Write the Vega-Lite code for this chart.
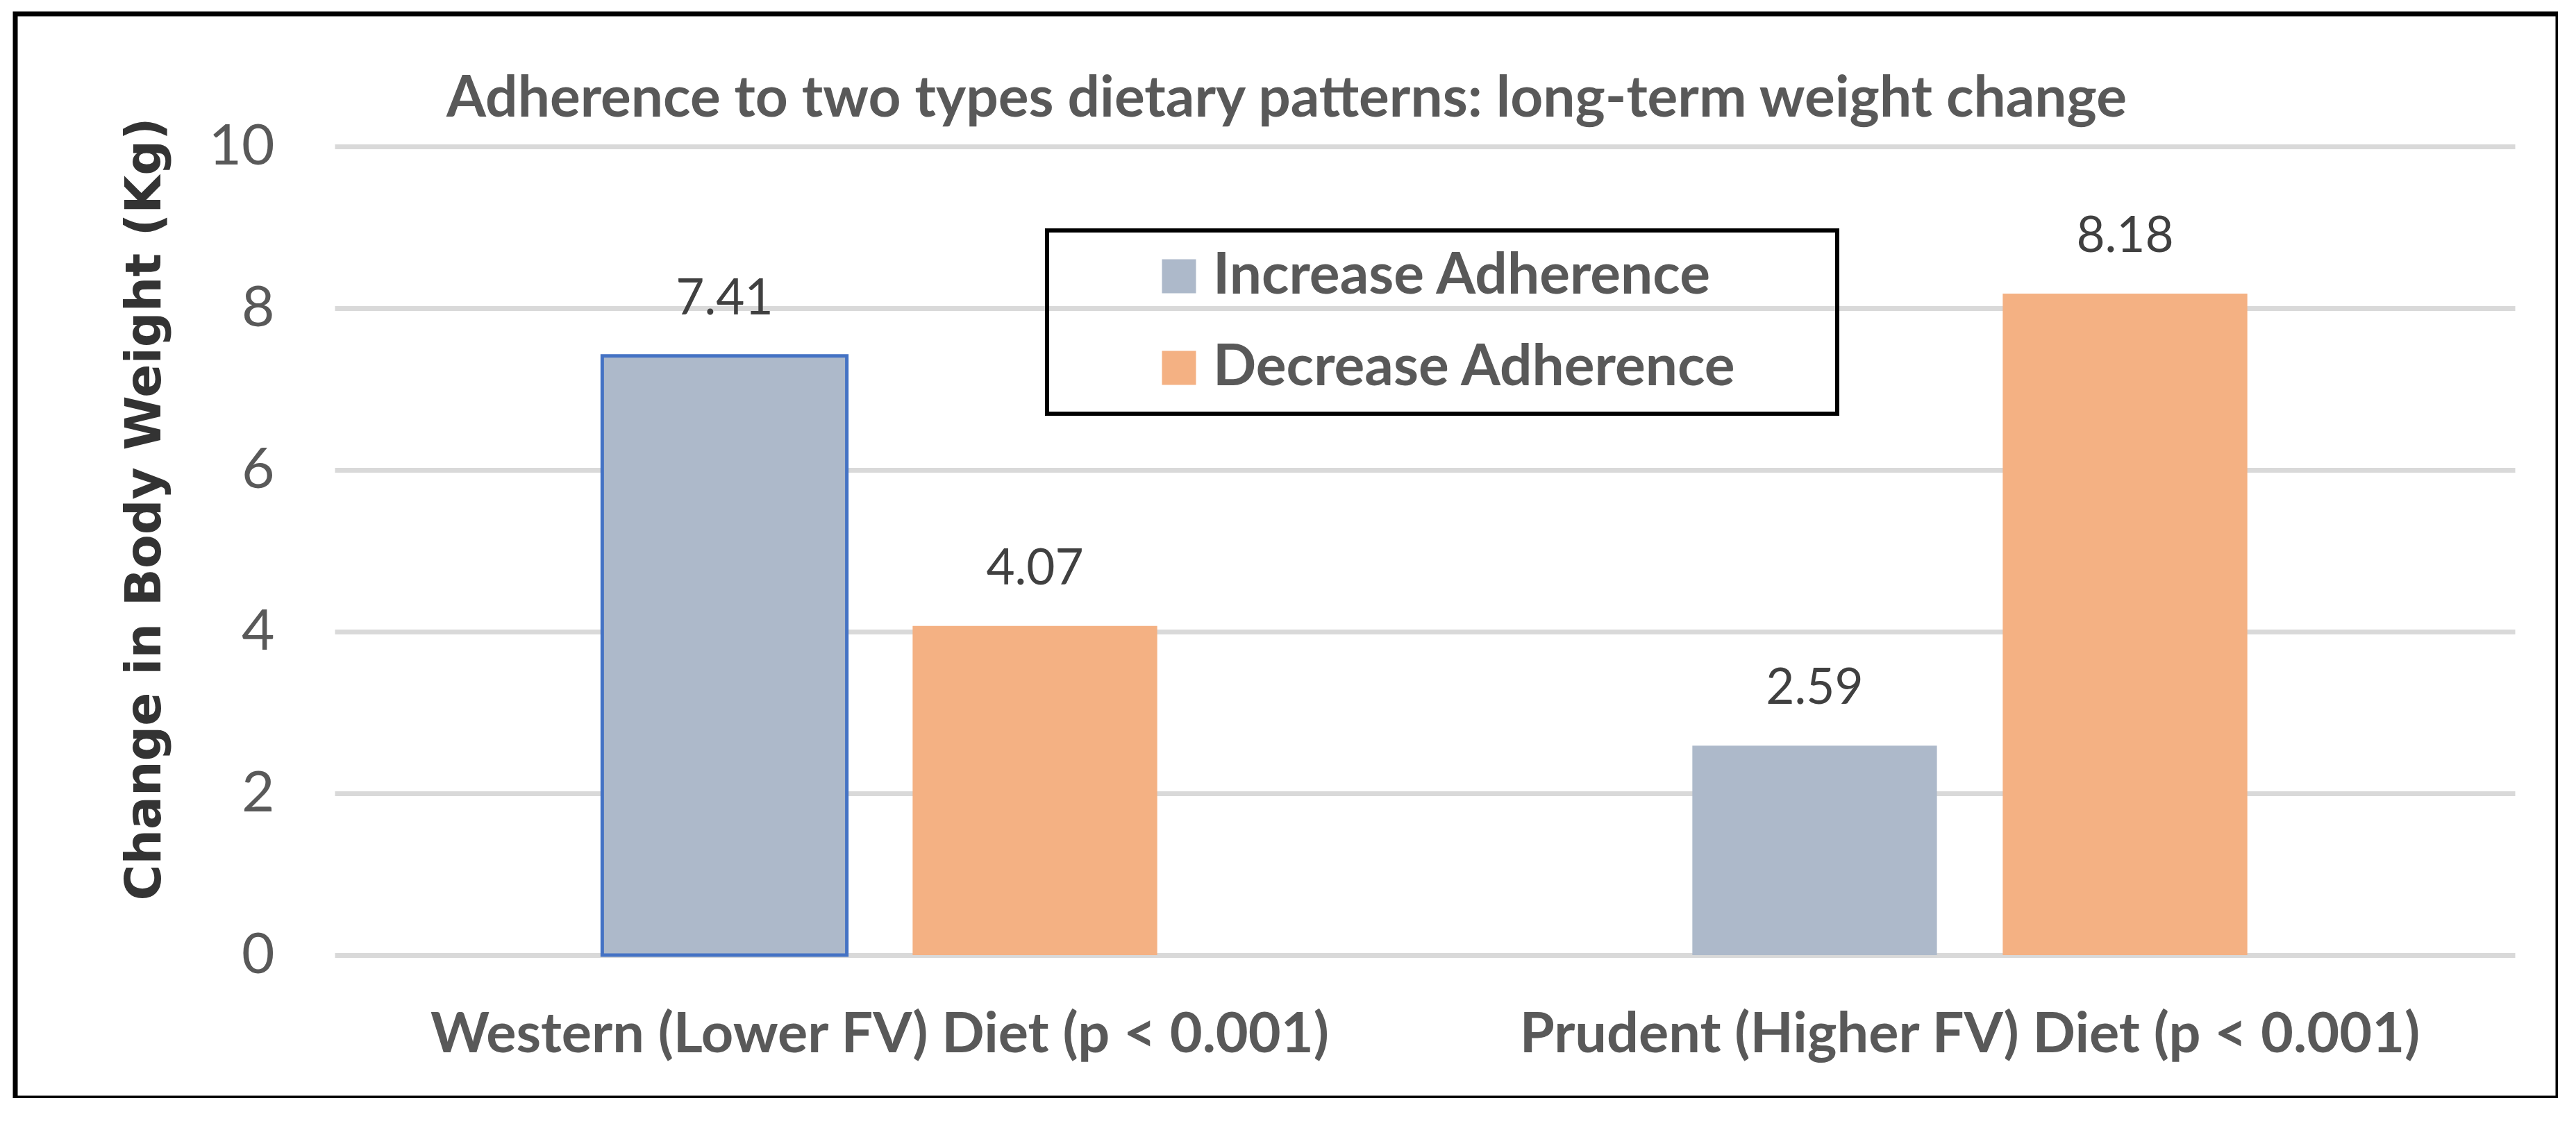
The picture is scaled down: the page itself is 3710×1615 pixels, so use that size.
{
  "$schema": "https://vega.github.io/schema/vega-lite/v6.json",
  "width": 3662,
  "height": 1562,
  "autosize": {"type": "none"},
  "padding": {"left": 22, "top": 20, "right": 0, "bottom": 0},
  "background": "white",
  "title": {
    "text": "Adherence to two types dietary patterns: long-term weight change",
    "font": "Lato",
    "fontSize": 82,
    "fontWeight": "bold",
    "color": "#595959",
    "anchor": "middle",
    "frame": "group",
    "baseline": "alphabetic",
    "offset": -230
  },
  "data": {
    "values": [
      {"diet": "Western (Lower FV) Diet (p < 0.001)", "adherence": "Increase Adherence", "change": 7.41},
      {"diet": "Western (Lower FV) Diet (p < 0.001)", "adherence": "Decrease Adherence", "change": 4.07},
      {"diet": "Prudent (Higher FV) Diet (p < 0.001)", "adherence": "Increase Adherence", "change": 2.59},
      {"diet": "Prudent (Higher FV) Diet (p < 0.001)", "adherence": "Decrease Adherence", "change": 8.18}
    ]
  },
  "encoding": {
    "x": {
      "field": "diet",
      "type": "nominal",
      "sort": null,
      "scale": {"range": [460, 3600], "paddingInner": 0, "paddingOuter": 0},
      "axis": {
        "orient": "bottom",
        "offset": -206,
        "title": null,
        "domain": false,
        "ticks": false,
        "tickSize": 0,
        "labelAngle": 0,
        "labelPadding": 139,
        "labelBaseline": "alphabetic",
        "labelFont": "Lato",
        "labelFontSize": 81,
        "labelFontWeight": "bold",
        "labelColor": "#595959",
        "labelLimit": 3000
      }
    },
    "xOffset": {
      "field": "adherence",
      "type": "nominal",
      "sort": ["Increase Adherence", "Decrease Adherence"],
      "scale": {"paddingInner": 0.212, "paddingOuter": 0.862}
    },
    "y": {
      "field": "change",
      "type": "quantitative",
      "scale": {"domain": [0, 10], "range": [1356, 191], "nice": false},
      "axis": {
        "orient": "left",
        "offset": -460,
        "values": [0, 2, 4, 6, 8, 10],
        "domain": false,
        "ticks": false,
        "tickSize": 0,
        "grid": true,
        "gridColor": "#D9D9D9",
        "gridWidth": 7,
        "labelFont": "Lato",
        "labelFontSize": 82,
        "labelColor": "#595959",
        "labelPadding": 87,
        "title": "Change in Body Weight (Kg)",
        "titleFont": "DejaVu Sans",
        "titleFontSize": 71,
        "titleFontWeight": "bold",
        "titleColor": "#333333",
        "titleAngle": -90,
        "titleAlign": "center",
        "titleBaseline": "alphabetic",
        "titleX": -252,
        "titleY": 713
      }
    }
  },
  "layer": [
    {
      "mark": {"type": "bar", "stroke": "#4472C4"},
      "encoding": {
        "color": {
          "field": "adherence",
          "type": "nominal",
          "scale": {
            "domain": ["Increase Adherence", "Decrease Adherence"],
            "range": ["#ADB9CA", "#F4B183"]
          },
          "legend": {
            "title": null,
            "orient": "none",
            "legendX": 1486,
            "legendY": 312,
            "direction": "vertical",
            "strokeColor": "black",
            "padding": 25,
            "symbolType": "square",
            "symbolSize": 2401,
            "symbolStrokeWidth": 0,
            "symbolOpacity": 1,
            "symbolOffset": 124,
            "labelOffset": 8,
            "labelFont": "Lato",
            "labelFontSize": 82,
            "labelFontWeight": "bold",
            "labelColor": "#595959",
            "labelLimit": 3000,
            "rowPadding": 50,
            "labelExpr": "datum.label + '\u00a0\u00a0\u00a0\u00a0\u00a0\u00a0\u200b'"
          }
        },
        "strokeWidth": {
          "condition": {
            "test": "datum.diet === 'Western (Lower FV) Diet (p < 0.001)' && datum.adherence === 'Increase Adherence'",
            "value": 5
          },
          "value": 0
        }
      }
    },
    {
      "mark": {
        "type": "text",
        "baseline": "alphabetic",
        "dy": -60,
        "font": "Lato",
        "fontSize": 71,
        "color": "#404040"
      },
      "encoding": {
        "text": {"field": "change", "type": "quantitative", "format": ".2f"}
      }
    }
  ],
  "config": {
    "view": {"stroke": "black", "strokeWidth": 7},
    "legend": {"strokeWidth": 6}
  }
}
